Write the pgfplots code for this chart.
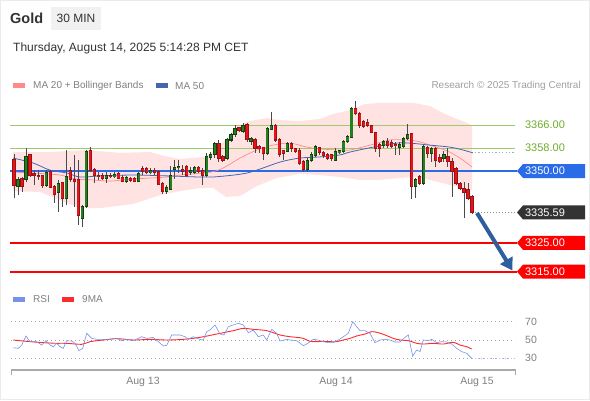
\documentclass[border=0pt]{standalone}
\usepackage{pgfplots}
\pgfplotsset{compat=1.18}
\usepackage{pgfplotstable}
\usepackage{fontspec}
\setmainfont{Liberation Sans}
\usetikzlibrary{arrows.meta}

\definecolor{wick}{HTML}{4A4A4A}
\definecolor{redbody}{HTML}{E8141B}
\definecolor{rededge}{HTML}{9E0F12}
\definecolor{greenbody}{HTML}{22801F}
\definecolor{greenedge}{HTML}{123F12}
\definecolor{bandpink}{HTML}{FFE3E3}
\definecolor{ma20}{HTML}{FF8A8A}
\definecolor{ma50}{HTML}{4468B0}
\definecolor{lvlgreen}{HTML}{9DCC6A}
\definecolor{lvlgreentext}{HTML}{6FAE2A}
\definecolor{lvlblue}{HTML}{2A6CE8}
\definecolor{lvlred}{HTML}{FF0000}
\definecolor{tagdark}{HTML}{333333}
\definecolor{arrowblue}{HTML}{2D5F9E}
\definecolor{rsiblue}{HTML}{7594E8}
\definecolor{rsired}{HTML}{FF2A2A}
\definecolor{txt}{HTML}{333333}
\definecolor{txtgray}{HTML}{808080}
\definecolor{txtlight}{HTML}{A0A0A0}
\definecolor{boxgray}{HTML}{F1F1F1}
\definecolor{axgray}{HTML}{AAAAAA}

\newcommand{\fs}[1]{\fontsize{#1}{#1}\selectfont}

\pgfplotstableread{
i o h l c
0 3354.1 3355.8 3340.5 3345.1
1 3344.6 3348.0 3341.6 3346.9
2 3347.4 3348.0 3342.8 3344.6
3 3346.9 3357.9 3346.3 3355.0
4 3355.6 3355.8 3348.0 3348.6
5 3349.2 3350.3 3345.1 3348.4
6 3348.6 3350.3 3346.9 3348.0
7 3348.4 3348.6 3344.0 3344.9
8 3344.9 3350.3 3344.6 3349.5
9 3349.8 3350.3 3344.0 3344.2
10 3344.6 3345.1 3338.8 3342.0
11 3342.6 3346.9 3335.9 3345.7
12 3346.1 3346.3 3337.6 3340.5
13 3340.5 3357.3 3338.2 3348.0
14 3350.0 3351.5 3346.3 3346.9
15 3347.2 3355.6 3337.6 3346.3
16 3347.1 3353.8 3331.2 3334.7
17 3333.5 3338.2 3330.6 3337.6
18 3337.6 3357.3 3337.0 3356.7
19 3357.0 3358.5 3349.8 3350.3
20 3350.7 3350.9 3345.7 3348.6
21 3348.6 3349.5 3346.9 3348.0
22 3348.4 3349.2 3346.9 3347.4
23 3347.4 3349.5 3345.7 3348.3
24 3348.6 3349.2 3347.4 3348.0
25 3348.0 3349.5 3347.4 3348.8
26 3349.0 3349.5 3347.2 3347.4
27 3347.7 3348.6 3346.1 3346.5
28 3346.5 3348.1 3345.8 3347.7
29 3347.4 3348.0 3346.1 3346.8
30 3347.4 3348.0 3346.1 3346.5
31 3346.5 3349.5 3346.1 3349.2
32 3350.9 3351.9 3348.6 3349.8
33 3350.7 3351.5 3348.8 3349.5
34 3349.5 3350.9 3348.8 3350.0
35 3350.3 3350.9 3348.6 3349.5
36 3350.0 3350.3 3345.1 3345.4
37 3345.7 3346.3 3341.9 3342.8
38 3342.8 3345.1 3341.9 3344.2
39 3343.7 3351.9 3343.4 3348.6
40 3350.7 3353.8 3347.4 3351.2
41 3351.2 3353.8 3349.2 3351.5
42 3350.7 3352.1 3348.6 3350.0
43 3351.5 3352.1 3348.0 3348.6
44 3349.5 3351.5 3348.6 3350.3
45 3349.5 3351.9 3348.8 3351.2
46 3351.2 3351.9 3349.2 3349.8
47 3350.0 3350.9 3345.1 3348.4
48 3348.6 3356.1 3348.0 3355.0
49 3354.6 3356.7 3353.8 3355.8
50 3355.6 3360.2 3354.4 3359.6
51 3359.6 3360.8 3353.2 3354.4
52 3355.0 3355.6 3353.2 3353.8
53 3354.4 3361.4 3353.8 3360.8
54 3360.8 3363.1 3360.2 3362.8
55 3362.8 3366.0 3361.9 3364.8
56 3365.1 3365.4 3363.4 3364.0
57 3363.9 3366.6 3363.4 3366.0
58 3366.2 3366.6 3360.2 3360.8
59 3360.4 3361.9 3359.0 3361.4
60 3361.0 3361.4 3356.1 3357.9
61 3358.5 3359.0 3356.1 3357.7
62 3358.1 3358.5 3353.8 3356.1
63 3356.1 3365.4 3355.6 3364.8
64 3364.6 3370.6 3364.3 3365.8
65 3366.0 3366.2 3360.2 3360.8
66 3360.8 3361.4 3355.0 3355.8
67 3357.0 3357.3 3353.8 3356.1
68 3356.7 3360.2 3356.5 3359.6
69 3359.6 3360.2 3356.7 3357.7
70 3357.7 3358.1 3356.1 3356.7
71 3357.3 3357.9 3352.1 3352.7
72 3353.2 3353.8 3349.8 3350.7
73 3350.7 3354.4 3349.8 3353.8
74 3353.8 3356.5 3353.2 3355.6
75 3355.3 3359.0 3355.0 3358.5
76 3358.1 3358.5 3355.6 3356.5
77 3356.5 3357.0 3354.6 3355.3
78 3355.6 3356.1 3353.8 3354.4
79 3355.6 3355.8 3353.5 3354.2
80 3353.8 3357.9 3353.5 3356.7
81 3356.5 3357.3 3355.8 3357.0
82 3356.7 3360.8 3356.1 3360.2
83 3360.2 3362.5 3359.6 3361.9
84 3361.6 3372.4 3361.4 3371.6
85 3371.6 3374.3 3369.5 3370.1
86 3370.1 3370.6 3365.1 3365.8
87 3367.2 3367.7 3364.8 3365.4
88 3366.9 3368.1 3365.4 3365.8
89 3365.7 3366.0 3363.1 3363.4
90 3363.4 3363.7 3356.7 3357.9
91 3359.3 3359.6 3355.0 3357.7
92 3359.0 3360.8 3357.9 3360.2
93 3360.4 3361.4 3357.9 3359.0
94 3360.0 3360.8 3358.1 3358.5
95 3359.3 3360.2 3355.6 3358.8
96 3358.1 3360.2 3355.6 3359.3
97 3358.5 3361.9 3357.9 3361.4
98 3361.4 3366.2 3360.8 3362.8
99 3362.9 3363.1 3340.3 3344.6
100 3344.6 3347.4 3340.5 3346.9
101 3348.0 3348.6 3345.1 3345.7
102 3345.7 3359.0 3345.1 3358.5
103 3358.2 3358.8 3354.4 3356.1
104 3356.1 3358.5 3353.2 3357.9
105 3357.9 3358.5 3351.5 3353.8
106 3354.6 3355.8 3352.7 3353.2
107 3354.4 3357.0 3353.2 3355.6
108 3355.0 3357.9 3351.5 3353.2
109 3353.2 3354.6 3341.1 3349.8
110 3350.9 3351.5 3345.1 3345.7
111 3345.7 3346.1 3343.4 3344.0
112 3344.0 3346.3 3333.5 3342.6
113 3343.7 3345.7 3339.9 3340.5
114 3341.1 3341.6 3334.9 3335.59
}\candles

\pgfplotstableread{
x v
13.3 41.6
18.3 40.9
21.7 44.5
26 54.4
30 48.2
36.7 48.2
41.7 44.5
46 49.3
50 44.5
53.3 42.7
56.7 46.4
60 42.7
63.3 40.9
66.7 49.3
71.7 48.9
75 46.4
79 38.4
82.7 40.9
86.7 57.3
91.7 51.8
96.7 50.7
103.3 50.7
110 50.7
116.7 51.8
121.7 49.3
126.7 50.7
133.3 49.3
141.7 53.6
146.7 51.8
153.3 52.9
158.3 48.2
163.3 43.5
166.7 44.2
171.7 55.5
180 55.5
185 53.6
188.3 50.7
193.3 53.6
200 50.7
203.3 50
206.7 59.1
210 60.9
215 66.4
220 56.5
224 55.5
228.3 64.5
233.3 66.4
238.3 68.2
243.3 66.4
248.3 58
253.3 60.9
258.3 53.6
263.3 55.5
266.7 50
271.7 61.6
276.7 57.3
280 48.9
286.7 50.7
290 50
296.7 49.3
303.3 43.8
306.7 45.6
313.3 50.7
318.3 50
323.3 48.2
328.3 47.1
333.3 47.1
338.3 50
343.3 53.6
348.3 57.3
352.7 70
356.7 64.5
360 60.2
365 60.2
370 57.3
375 47.1
380 50
385 50.7
390 50
395 47.8
400 47.8
405 52.9
408.3 55.5
412.7 32.5
416.7 39.1
420 37.3
423.3 50
428.3 49.3
431.7 50.7
436.7 47.1
441.7 48.2
446.7 47.8
451.7 45.6
456.7 40.9
461.7 37.3
466.7 35.5
471.7 30
}\rsi

\pgfplotstableread{
x v
13.3 50
30 48.2
43.3 47.1
56.7 46.4
66.7 46.4
81.7 45.3
90 48.2
103.3 50
116.7 51.5
133.3 50
150 50.7
166.7 50
183.3 50.7
200 52.9
216.7 56.5
233.3 60.2
243.3 62.7
253.3 61.6
266.7 60.2
280 55.5
290 53.6
296.7 52.9
303.3 51.8
310 48.5
316.7 48.2
323.3 48.5
330 48.2
336.7 48.2
343.3 50
350 51.8
356.7 54.4
365 56.5
371.7 59.1
378.3 58
385 55.5
393.3 51.8
400 50
408.3 49.3
416.7 46.4
423.3 45.6
433.3 46.4
443.3 45.6
453.3 47.5
460 44.5
466.7 42.7
471.7 40.2
}\rsima

\pgfplotstableread{
x y
10 3325
517 3325
}\supportone

\pgfplotstableread{
x y
10 3315
517 3315
}\supporttwo

\newcommand{\pricetag}[3]{%
  \fill[#2] (axis cs:517,#1) -- ([shift={(6pt,7pt)}]axis cs:517,#1) -- ([shift={(68pt,7pt)}]axis cs:517,#1) -- ([shift={(68pt,-7pt)}]axis cs:517,#1) -- ([shift={(6pt,-7pt)}]axis cs:517,#1) -- cycle;
  \node[text=white, font=\fs{11}, inner sep=0pt] at ([xshift=28pt]axis cs:517,#1) {#3};
}

\begin{document}
\begin{tikzpicture}[x=1pt,y=1pt]
\path[use as bounding box] (0pt,0pt) rectangle (590pt,400pt);
\fill[white] (0pt,0pt) rectangle (590pt,400pt);
\draw[black!8, line width=1.2pt] (0.6pt,0.6pt) rectangle (589.4pt,399.4pt);

% header
\node[anchor=west, inner sep=0pt, text=txt, font=\bfseries\fs{14.5}] at (10pt,382pt) {Gold};
\fill[boxgray] (51pt,370pt) rectangle (101pt,393pt);
\node[inner sep=0pt, text=txt, font=\fs{12}] at (76pt,381.5pt) {30 MIN};
\node[anchor=west, inner sep=0pt, text=txt, font=\fs{12}] at (13pt,352pt) {Thursday, August 14, 2025 5:14:28 PM CET};

% legend
\fill[ma20] (13pt,311.5pt) rectangle (25pt,316.5pt);
\node[anchor=west, inner sep=0pt, text=txtgray, font=\fs{10}] at (33pt,314pt) {MA 20 + Bollinger Bands};
\fill[ma50] (156pt,311.5pt) rectangle (168pt,316.5pt);
\node[anchor=west, inner sep=0pt, text=txtgray, font=\fs{10}] at (175pt,314pt) {MA 50};
\node[anchor=east, inner sep=0pt, text=txtlight, font=\fs{10}] at (581pt,314pt) {Research © 2025 Trading Central};

\fill[rsiblue] (13pt,98.5pt) rectangle (25pt,103.5pt);
\node[anchor=west, inner sep=0pt, text=txtgray, font=\fs{10}] at (33pt,101pt) {RSI};
\fill[rsired] (62pt,98.5pt) rectangle (74pt,103.5pt);
\node[anchor=west, inner sep=0pt, text=txtgray, font=\fs{10}] at (82pt,101pt) {9MA};

% main price chart
\begin{axis}[at={(10pt,114pt)}, anchor=south west, scale only axis,
  width=505pt, height=189.75pt,
  xmin=10, xmax=515, ymin=3310, ymax=3376,
  hide axis, clip=false]

% Bollinger band area
\addplot[fill=bandpink, draw=none, forget plot] coordinates {
(13,3356.6)(50,3356.6)(87,3357.3)(120,3356.3)(150,3356.6)(165,3355.2)(180,3354.2)(205,3354.9)(215,3357.3)(226,3361.1)(237,3365.7)(250,3367.4)(267,3368.4)(280,3367.7)(300,3367.4)(320,3368.1)(333,3369.8)(350,3371.2)(365,3373.3)(380,3373.7)(400,3373.7)(413,3373.7)(430,3372.6)(445,3369.8)(460,3367.7)(472,3366.0)
(472,3343.4)(450,3345.1)(430,3346.9)(415,3347.9)(400,3347.6)(380,3346.9)(360,3346.9)(340,3347.9)(320,3348.6)(300,3349.0)(277,3347.6)(257,3344.8)(240,3341.3)(226,3341.0)(213,3344.1)(200,3344.1)(180,3343.0)(160,3341.6)(133,3338.5)(100,3337.1)(80,3337.1)(60,3339.9)(40,3342.7)(13,3343.0)
};

% support lines
\addplot[draw=lvlred, line width=1.8pt, forget plot] table[x=x, y=y] {\supporttwo};
\addplot[draw=lvlred, line width=1.8pt, forget plot] table[x=x, y=y] {\supportone};

% resistance / pivot lines
\addplot[draw=lvlgreen, line width=0.9pt, forget plot] coordinates {(10,3366)(515,3366)};
\addplot[draw=lvlgreen, line width=0.9pt, forget plot] coordinates {(10,3358)(515,3358)};
\addplot[draw=lvlblue, line width=1.4pt, forget plot] coordinates {(10,3350)(517,3350)};

% MA 20
\addplot[draw=ma20, line width=0.7pt, smooth, forget plot] coordinates {
(13,3349.6)(33,3349.3)(60,3348.6)(77,3347.2)(93,3346.9)(110,3346.5)(133,3347.2)(167,3347.9)(180,3348.6)(210,3349.6)(223,3351.0)(240,3354.5)(257,3357.3)(273,3359.0)(290,3359.7)(307,3358.3)(323,3357.6)(340,3357.3)(350,3357.3)(370,3359.0)(390,3360.8)(403,3360.8)(417,3360.4)(430,3359.0)(447,3357.0)(460,3354.5)(472,3351.4)
};
% MA 50
\addplot[draw=ma50, line width=0.8pt, smooth, forget plot] coordinates {
(13,3354.5)(33,3352.8)(50,3350.3)(67,3349.3)(80,3347.9)(100,3348.3)(133,3348.6)(167,3348.3)(200,3347.9)(213,3347.9)(247,3349.3)(280,3353.1)(300,3354.5)(320,3354.9)(340,3355.6)(350,3356.6)(373,3358.3)(397,3359.7)(410,3359.7)(430,3359.0)(450,3358.3)(463,3357.3)(473,3356.3)
};
\addplot[draw=ma50!55, line width=0.8pt, dash pattern=on 1.2pt off 2.2pt, forget plot] coordinates {(475,3356.3)(514,3356.3)};

% candle wicks
\addplot[draw=none, mark=none, forget plot,
  error bars/.cd, y dir=both, y explicit, error mark=none,
  error bar style={line width=0.9pt, draw=wick}]
  table[x expr={14+4.018*\thisrow{i}}, y expr={(\thisrow{h}+\thisrow{l})/2}, y error expr={(\thisrow{h}-\thisrow{l})/2}] {\candles};

% rising candles
\addplot[draw=none, mark=none, forget plot,
  restrict expr to domain={\thisrow{c}-\thisrow{o}}{0:100},
  error bars/.cd, y dir=both, y explicit, error mark=none,
  error bar style={line width=3.2pt, draw=greenedge}]
  table[x expr={14+4.018*\thisrow{i}}, y expr={(\thisrow{o}+\thisrow{c})/2}, y error expr={abs(\thisrow{c}-\thisrow{o})/2+0.18}] {\candles};
\addplot[draw=none, mark=none, forget plot,
  restrict expr to domain={\thisrow{c}-\thisrow{o}}{0:100},
  error bars/.cd, y dir=both, y explicit, error mark=none,
  error bar style={line width=2.1pt, draw=greenbody}]
  table[x expr={14+4.018*\thisrow{i}}, y expr={(\thisrow{o}+\thisrow{c})/2}, y error expr={max(abs(\thisrow{c}-\thisrow{o})/2-0.17,0.1)}] {\candles};

% falling candles
\addplot[draw=none, mark=none, forget plot,
  restrict expr to domain={\thisrow{c}-\thisrow{o}}{-100:-0.001},
  error bars/.cd, y dir=both, y explicit, error mark=none,
  error bar style={line width=3.2pt, draw=rededge}]
  table[x expr={14+4.018*\thisrow{i}}, y expr={(\thisrow{o}+\thisrow{c})/2}, y error expr={abs(\thisrow{c}-\thisrow{o})/2+0.18}] {\candles};
\addplot[draw=none, mark=none, forget plot,
  restrict expr to domain={\thisrow{c}-\thisrow{o}}{-100:-0.001},
  error bars/.cd, y dir=both, y explicit, error mark=none,
  error bar style={line width=2.1pt, draw=redbody}]
  table[x expr={14+4.018*\thisrow{i}}, y expr={(\thisrow{o}+\thisrow{c})/2}, y error expr={max(abs(\thisrow{c}-\thisrow{o})/2-0.17,0.1)}] {\candles};

\addplot[draw=black!45, line width=0.7pt, dash pattern=on 1.2pt off 1.8pt, forget plot] coordinates {(475,3335.59)(516,3335.59)};

% labels
\node[text=lvlgreentext, font=\fs{11}, inner sep=0pt] at (axis cs:545,3366) {3366.00};
\node[text=lvlgreentext, font=\fs{11}, inner sep=0pt] at (axis cs:545,3358) {3358.00};
\pricetag{3350}{lvlblue}{3350.00}
\pricetag{3335.59}{tagdark}{3335.59}
\pricetag{3325}{lvlred}{3325.00}
\pricetag{3315}{lvlred}{3315.00}

% forecast arrow
\draw[arrowblue, line width=4pt, -{Triangle[length=12pt,width=14pt]}] (axis cs:477,3335.4) -- (axis cs:512.5,3315.4);
\end{axis}

% RSI panel
\begin{axis}[at={(10pt,27.9pt)}, anchor=south west, scale only axis,
  width=505pt, height=59.6pt,
  xmin=10, xmax=515, ymin=15, ymax=80,
  hide axis, clip=false]
\addplot[draw=black!35, line width=0.8pt, dash pattern=on 0.8pt off 3.2pt, forget plot] coordinates {(11,70)(515,70)};
\addplot[draw=black!35, line width=0.8pt, dash pattern=on 0.8pt off 3.2pt, forget plot] coordinates {(11,50)(515,50)};
\addplot[draw=black!35, line width=0.8pt, dash pattern=on 0.8pt off 3.2pt, forget plot] coordinates {(11,30)(515,30)};
\addplot[draw=rsired, line width=0.9pt, smooth, forget plot] table[x=x, y=v] {\rsima};
\addplot[draw=rsiblue, line width=0.6pt, forget plot] table[x=x, y=v] {\rsi};
\addplot[draw=rsiblue!60, line width=0.7pt, dash pattern=on 1.2pt off 1.8pt, forget plot] coordinates {(472,30)(515,30)};
% time axis line
\addplot[draw=axgray, line width=1.5pt, forget plot] coordinates {(11.4,11.8)(11.4,17.3)(515.6,17.3)(515.6,11.8)};
\node[anchor=west, text=txtgray, font=\fs{10.5}, inner sep=0pt] at (axis cs:525,70) {70};
\node[anchor=west, text=txtgray, font=\fs{10.5}, inner sep=0pt] at (axis cs:525,50) {50};
\node[anchor=west, text=txtgray, font=\fs{10.5}, inner sep=0pt] at (axis cs:525,30) {30};
\node[text=txtgray, font=\fs{10.5}, inner sep=0pt] at (axis cs:143,4.2) {Aug 13};
\node[text=txtgray, font=\fs{10.5}, inner sep=0pt] at (axis cs:336,4.2) {Aug 14};
\node[text=txtgray, font=\fs{10.5}, inner sep=0pt] at (axis cs:477,4.2) {Aug 15};
\end{axis}
\end{tikzpicture}
\end{document}
